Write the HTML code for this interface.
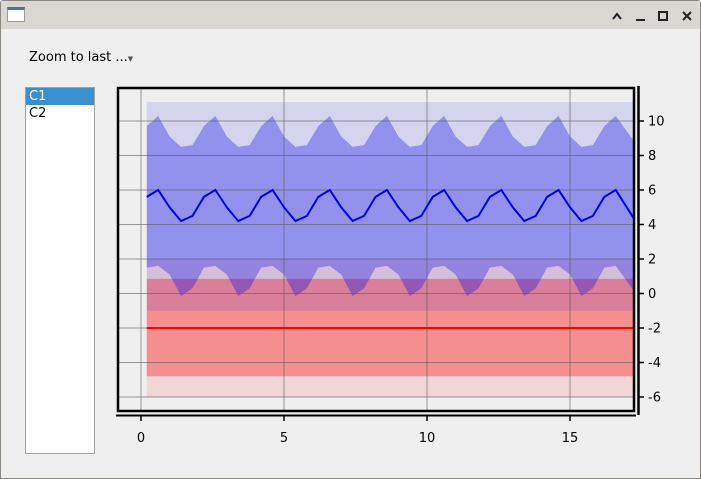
<!DOCTYPE html>
<html><head><meta charset="utf-8"><style>
body{margin:0;width:701px;height:479px;overflow:hidden;background:#fff;font-family:"DejaVu Sans","Liberation Sans",sans-serif}
#win{position:absolute;left:0;top:0;width:699px;height:477px;border:1px solid #8a8783;background:#efefef;border-radius:3px 3px 0 0}
#title{position:absolute;left:0;top:0;width:699px;height:28px;background:#dad6d2}
#list{position:absolute;left:24px;top:86px;width:68px;height:365px;background:#fff;border:1px solid #a0a0a0}
.item{height:17px;line-height:17px;font-size:13px;padding-left:3px;color:#000}
</style></head><body>
<div id="win">
<div id="title">
 <div style="position:absolute;left:6px;top:6px;width:18px;height:15px;border:1px solid #999;background:#fff;border-top:3px solid #4a6fa8;box-sizing:border-box"></div>
 <svg style="position:absolute;left:600px;top:6px" width="100" height="18">
  <path d="M12 12 L16 7 L20 12" stroke="#222" stroke-width="2" fill="none"/>
  <rect x="35" y="12" width="9" height="2" fill="#222"/>
  <rect x="58" y="5" width="8" height="8" stroke="#222" stroke-width="2" fill="none"/>
  <path d="M82 5 L90 13 M90 5 L82 13" stroke="#222" stroke-width="2"/>
 </svg>
</div>
<div style="position:absolute;left:28px;top:49px;font-size:13px">Zoom to last ...<span style="font-size:7px;color:#555">▼</span></div>
<div id="list">
 <div class="item" style="background:#3a8fcf;color:#fff">C1</div>
 <div class="item">C2</div>
</div>
</div>
<svg id="chart" style="position:absolute;left:0;top:0" width="701" height="479"></svg>
<script>
const xValues=[0.2,0.6,1.0,1.4,1.8,2.2,2.6,3.0,3.4,3.8,4.2,4.6,5.0,5.4,5.8,6.2,6.6,7.0,7.4,7.8,8.2,8.6,9.0,9.4,9.8,10.2,10.6,11.0,11.4,11.8,12.2,12.6,13.0,13.4,13.8,14.2,14.6,15.0,15.4,15.8,16.2,16.6,17.25];
const meanBlue=[5.6,6.0,5.0,4.2,4.5,5.6,6.0,5.0,4.2,4.5,5.6,6.0,5.0,4.2,4.5,5.6,6.0,5.0,4.2,4.5,5.6,6.0,5.0,4.2,4.5,5.6,6.0,5.0,4.2,4.5,5.6,6.0,5.0,4.2,4.5,5.6,6.0,5.0,4.2,4.5,5.6,6.0,4.3];
const upperBlue=[9.7,10.3,9.1,8.5,8.6,9.7,10.3,9.1,8.5,8.6,9.7,10.3,9.1,8.5,8.6,9.7,10.3,9.1,8.5,8.6,9.7,10.3,9.1,8.5,8.6,9.7,10.3,9.1,8.5,8.6,9.7,10.3,9.1,8.5,8.6,9.7,10.3,9.1,8.5,8.6,9.7,10.3,8.8];
const lowerBlue=[1.5,1.6,1.1,-0.15,0.3,1.5,1.6,1.1,-0.15,0.3,1.5,1.6,1.1,-0.15,0.3,1.5,1.6,1.1,-0.15,0.3,1.5,1.6,1.1,-0.15,0.3,1.5,1.6,1.1,-0.15,0.3,1.5,1.6,1.1,-0.15,0.3,1.5,1.6,1.1,-0.15,0.3,1.5,1.6,0.1];
const blueRange=[-1.0,11.1];
const redRange=[-6.0,2.0];
const redBand=[-4.8,0.85];
const redMean=-2.0;
const xTicks=[0,5,10,15];
const yTicks=[-6,-4,-2,0,2,4,6,8,10];

const svg=document.getElementById('chart');
const NS='http://www.w3.org/2000/svg';
const X=v=>141+v*28.6, Y=v=>293.5-v*17.25;
const xStart=xValues[0], xEnd=xValues[xValues.length-1];
function mk(t,a,name){const e=document.createElementNS(NS,t);for(const k in a)e.setAttribute(k,a[k]);


svg.appendChild(e);return e;}
const xs=xValues;
function rect(lo,hi,fill,name){mk('rect',{x:X(xStart),y:Y(hi),width:X(xEnd)-X(xStart),height:Y(lo)-Y(hi),fill:fill},name);}
rect(redRange[0],redRange[1],'rgba(255,0,0,0.1)','red-range');
rect(redBand[0],redBand[1],'rgba(255,0,0,0.33)','red-band');
rect(blueRange[0],blueRange[1],'rgba(0,0,240,0.11)','blue-range');
let d='M'+xs.map((x,i)=>X(x)+' '+Y(upperBlue[i])).join(' L');
d+=' L'+xs.slice().reverse().map((x,j)=>X(x)+' '+Y(lowerBlue[lowerBlue.length-1-j])).join(' L')+' Z';
mk('path',{d:d,fill:'rgba(0,0,240,0.31)'},'blue-band');
yTicks.forEach(t=>{mk('line',{x1:118,x2:634,y1:Y(t),y2:Y(t),stroke:'rgba(90,90,90,0.6)','stroke-width':1},'y-grid-line');});
xTicks.forEach(t=>{mk('line',{x1:X(t),x2:X(t),y1:88,y2:411,stroke:'rgba(90,90,90,0.6)','stroke-width':1},'x-grid-line');});
mk('path',{d:'M'+xs.map((x,i)=>X(x)+' '+Y(meanBlue[i])).join(' L'),fill:'none',stroke:'#0000ee','stroke-width':2},'blue-mean-line');
mk('line',{x1:X(xStart),x2:X(xEnd),y1:Y(redMean),y2:Y(redMean),stroke:'#ff0000','stroke-width':2},'red-mean-line');
mk('rect',{x:118,y:88,width:516,height:323,fill:'none',stroke:'#000','stroke-width':2.5},'plot-frame');
mk('line',{x1:638.5,x2:638.5,y1:86,y2:415,stroke:'#000','stroke-width':2.5},'y-axis-line');
mk('line',{x1:116,x2:636,y1:415.5,y2:415.5,stroke:'#000','stroke-width':2},'x-axis-line');
yTicks.forEach(t=>{mk('line',{x1:638,x2:644,y1:Y(t),y2:Y(t),stroke:'#000','stroke-width':1.5},'y-tick');
 const e=mk('text',{x:648,y:Y(t)+4.5,'font-size':13,fill:'#000'},'y-tick-label');e.textContent=t;});
xTicks.forEach(t=>{mk('line',{x1:X(t),x2:X(t),y1:415,y2:421,stroke:'#000','stroke-width':1.5},'x-tick');
 const e=mk('text',{x:X(t),y:442,'font-size':13,'text-anchor':'middle',fill:'#000'},'x-tick-label');e.textContent=t;});
</script>
</body></html>
